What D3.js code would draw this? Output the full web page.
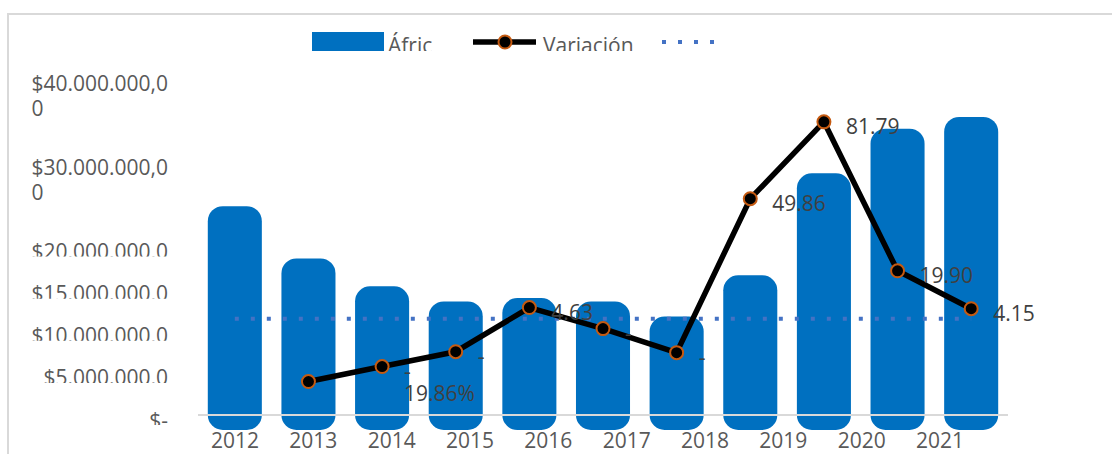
<!DOCTYPE html>
<html>
<head>
<meta charset="utf-8">
<script src="https://cdn.jsdelivr.net/npm/d3@7"></script>
<style>
  body { margin: 0; background: #fff; }
  svg { display: block; font-family: "Open Sans", sans-serif; }
</style>
</head>
<body>
<div id="chart"></div>
<script>
// bars (11 columns, the last one has no label under it)
var barYears = ["2012", "2013", "2014", "2015", "2016", "2017", "2018", "2019", "2020", "2021", "2022"];
var amounts = [23.0e6, 16.8e6, 13.5e6, 11.7e6, 12.1e6, 11.7e6, 9.9e6, 14.8e6, 26.9e6, 32.2e6, 33.6e6];

// variation (%) from the 2nd column on
var variation = [-26.1, -19.86, -13.7, 4.63, -4.1, -14.1, 49.86, 81.79, 19.90, 4.15];
var variationLabels = ["", "-\n19.86%", "-", "4.63", "-", "-", "49.86", "81.79", "19.90", "4.15"];

// dotted series, flat at 0 on the % axis
var refLine = [0, 0, 0, 0, 0, 0, 0, 0, 0, 0, 0];

var axisYears = ["2012", "2013", "2014", "2015", "2016", "2017", "2018", "2019", "2020", "2021"];
var yTicks = [0, 5e6, 10e6, 15e6, 20e6, 30e6, 40e6];
var legendNames = ["Áfric", "Variación", ""];

var W = 1112, H = 454;
var BLUE = "#0070c0", DOT = "#4472c4", ORANGE = "#c55a11", TXT = "#595959", LBL = "#404040";

var svg = d3.select("#chart").append("svg").attr("width", W).attr("height", H);
var defs = svg.append("defs");

// frame
svg.append("path").attr("d", "M8,454V14H1112").attr("fill", "none")
  .attr("stroke", "#d9d9d9").attr("stroke-width", 2);

var x = d3.scaleBand().domain(barYears).range([198, 1008]).paddingInner(0.266).paddingOuter(0.133);
var xLab = d3.scalePoint().domain(axisYears).range([235, 940]);
var y = d3.scaleLinear().domain([0, 40e6]).range([415, 78]);
var yPct = d3.scaleLinear().domain([-40, 100]).range([415, 78]);

var loc = d3.formatLocale({ decimal: ",", thousands: ".", grouping: [3], currency: ["$", ""] });
var money = loc.format("$,.2f");
function tickText(v) { return v === 0 ? "$-" : money(v); }

// y tick labels: the wide ones wrap, the crowded lower ones get cut off at the bottom
yTicks.forEach(function(v, i) {
  var s = tickText(v);
  var crowded = v <= 20e6;
  var l1 = v === 0 ? s : s.slice(0, -1), l2 = v === 0 ? "" : s.slice(-1);
  var g = svg.append("g");
  if (crowded) {
    defs.append("clipPath").attr("id", "yc" + i).append("rect")
      .attr("x", 0).attr("y", y(v) - 30).attr("width", 200).attr("height", 40);
    g.attr("clip-path", "url(#yc" + i + ")");
  }
  var t1 = g.append("text").attr("x", 168).attr("y", y(v) + 12.5).attr("text-anchor", "end")
    .attr("font-size", 21).attr("fill", TXT).text(l1);
  if (l2 && !crowded) {
    var left = 168 - t1.node().getComputedTextLength();
    g.append("text").attr("x", left).attr("y", y(v) + 37.5)
      .attr("font-size", 21).attr("fill", TXT).text(l2);
  }
});

// bars: rounded columns that spill a bit past value and baseline
var r = 15;
svg.append("g").selectAll("rect").data(amounts).join("rect")
  .attr("x", (d, i) => x(barYears[i]))
  .attr("y", d => y(d) - r)
  .attr("width", x.bandwidth())
  .attr("height", d => y(0) - y(d) + 2 * r)
  .attr("rx", r).attr("ry", r)
  .attr("fill", BLUE);

// category axis line
svg.append("line").attr("x1", x.range()[0]).attr("x2", x.range()[1])
  .attr("y1", y(0)).attr("y2", y(0)).attr("stroke", "#d9d9d9").attr("stroke-width", 2);

// x labels
svg.append("g").selectAll("text").data(axisYears).join("text")
  .attr("x", d => xLab(d)).attr("y", 448).attr("text-anchor", "middle")
  .attr("font-size", 21).attr("fill", TXT).text(d => d);

// dotted line
var cx = d => x(d) + x.bandwidth() / 2;
svg.append("path").datum(refLine)
  .attr("d", d3.line().x((d, i) => cx(barYears[i])).y(d => yPct(d)))
  .attr("fill", "none").attr("stroke", DOT).attr("stroke-width", 4).attr("stroke-dasharray", "4 12");

// variation line + markers
var varYears = barYears.slice(1);
svg.append("path").datum(variation)
  .attr("d", d3.line().x((d, i) => cx(varYears[i])).y(d => yPct(d)))
  .attr("fill", "none").attr("stroke", "#000").attr("stroke-width", 5.5).attr("stroke-linejoin", "round");

svg.append("g").selectAll("circle").data(variation).join("circle")
  .attr("cx", (d, i) => cx(varYears[i])).attr("cy", d => yPct(d)).attr("r", 6.5)
  .attr("fill", "#000").attr("stroke", ORANGE).attr("stroke-width", 2);

// data labels
var lab = svg.append("g").attr("font-size", 21).attr("fill", LBL);
variation.forEach(function(v, i) {
  var px = cx(varYears[i]) + 22, py = yPct(v);
  variationLabels[i].split("\n").forEach(function(line, k) {
    if (!line) return;
    lab.append("text").attr("x", px).attr("y", py + 12 + k * 22).text(line);
  });
});

// legend
defs.append("clipPath").attr("id", "legclip").append("rect")
  .attr("x", 0).attr("y", 0).attr("width", W).attr("height", 51);
var leg = svg.append("g");
leg.append("rect").attr("x", 312).attr("y", 32).attr("width", 72).attr("height", 19).attr("fill", BLUE);
leg.append("line").attr("x1", 473).attr("x2", 536).attr("y1", 42).attr("y2", 42)
  .attr("stroke", "#000").attr("stroke-width", 5.5);
leg.append("circle").attr("cx", 505).attr("cy", 42).attr("r", 6.5)
  .attr("fill", "#000").attr("stroke", ORANGE).attr("stroke-width", 2);
leg.append("line").attr("x1", 662).attr("x2", 716).attr("y1", 42).attr("y2", 42)
  .attr("stroke", DOT).attr("stroke-width", 4).attr("stroke-dasharray", "4 12");
var legText = leg.append("g").attr("clip-path", "url(#legclip)").attr("font-size", 21).attr("fill", TXT);
legText.append("text").attr("x", 388).attr("y", 53).text(legendNames[0]);
legText.append("text").attr("x", 543).attr("y", 53).text(legendNames[1]);
legText.append("text").attr("x", 720).attr("y", 53).text(legendNames[2]);
</script>
</body>
</html>
